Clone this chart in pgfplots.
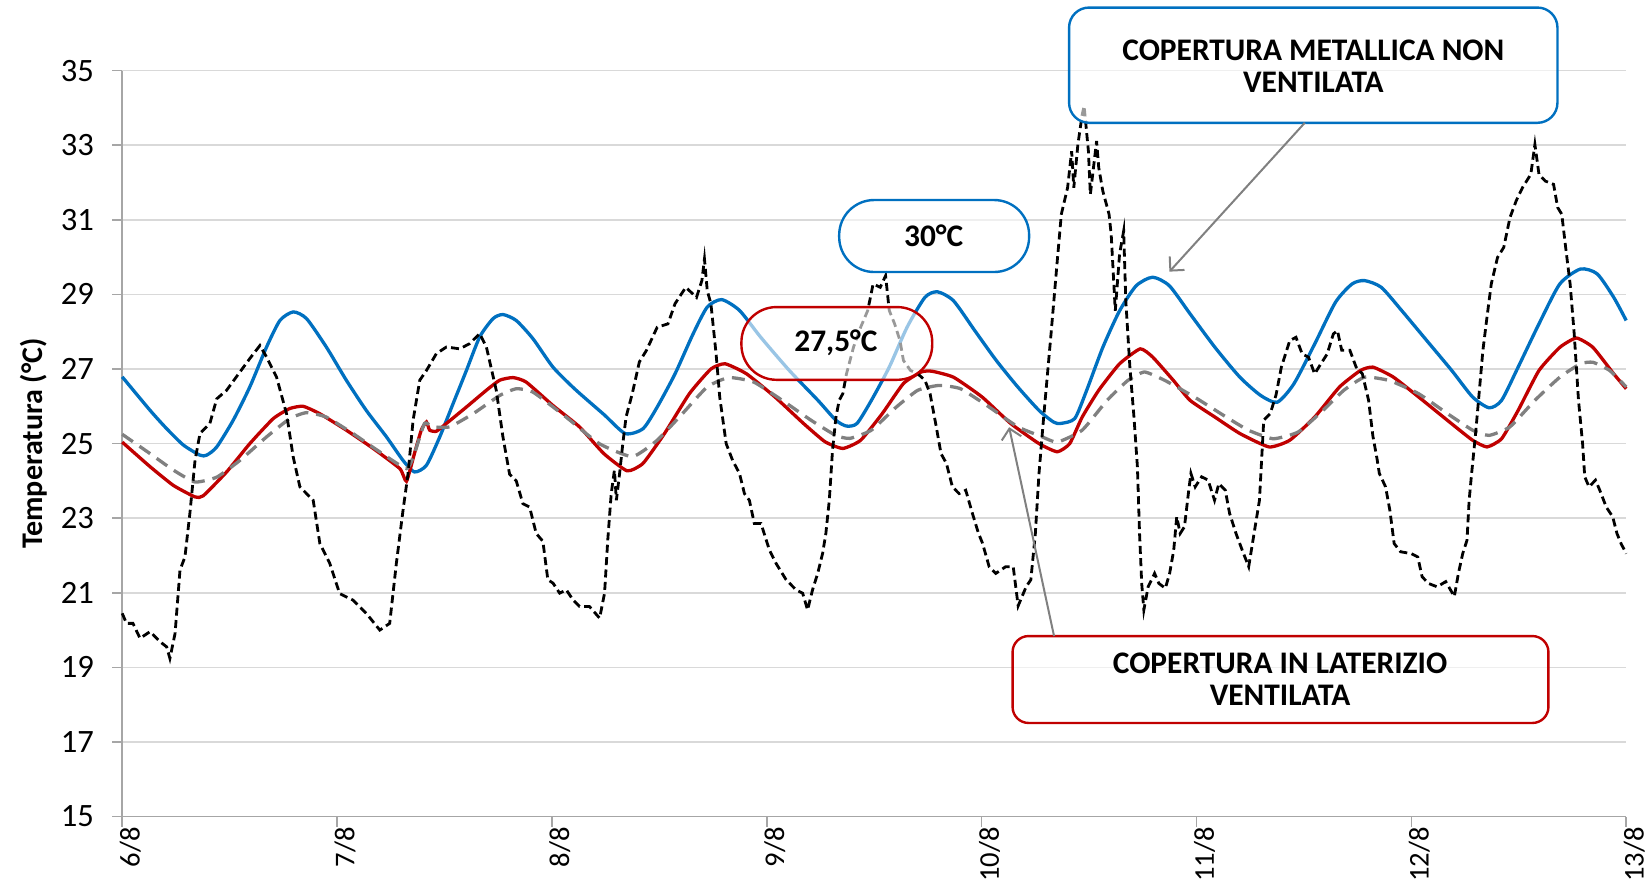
\documentclass[border=0pt]{standalone}
\usepackage{pgfplots}
\pgfplotsset{compat=1.18}
\usepackage{fontspec}
\setmainfont{Carlito}
\usetikzlibrary{arrows.meta}
\definecolor{cblue}{HTML}{0070C0}
\definecolor{cred}{HTML}{C00000}
\definecolor{cgray}{HTML}{808080}
\definecolor{cgrid}{HTML}{D9D9D9}
\definecolor{caxis}{HTML}{A6A6A6}
\begin{document}
\begin{tikzpicture}
\path[use as bounding box] (-61.1pt,-35.25pt) rectangle (764.9pt,408.3pt);
\begin{axis}[
  at={(0,0)}, anchor=south west,
  scale only axis, width=752pt, height=373pt,
  xmin=0, xmax=7, ymin=15, ymax=35,
  axis x line*=bottom, axis y line*=left,
  axis line style={draw=caxis, line width=0.8pt},
  xtick={0,1,2,3,4,5,6,7},
  xticklabels={6/8,7/8,8/8,9/8,10/8,11/8,12/8,13/8},
  ytick={15,17,...,35},
  tick align=outside, major tick length=5pt,
  tick style={draw=caxis, line width=0.8pt},
  ymajorgrids, grid style={draw=cgrid, line width=0.8pt},
  /pgf/number format/assume math mode=true,
  yticklabel style={font=\fontsize{16.3}{18}\selectfont, anchor=east, inner sep=0pt, xshift=-9pt},
  xticklabel style={font=\fontsize{14.3}{16}\selectfont, rotate=90, anchor=east, inner sep=0pt, yshift=-4pt},
  every axis y label/.style={at={(axis description cs:-0.0585,0.5)}, rotate=90, anchor=center},
  ylabel={\fontsize{15}{17}\selectfont\bfseries Temperatura (°C)},
  clip=false,
]
% metal roof non ventilated
\addplot[cblue, line width=1.65pt, smooth, tension=0.4] coordinates {
(0,26.79)(0.13,25.89)(0.207,25.40)(0.285,24.96)(0.362,24.69)(0.393,24.69)(0.44,24.91)(0.517,25.63)(0.594,26.52)(0.672,27.59)(0.734,28.30)(0.796,28.53)(0.858,28.35)(0.95,27.59)(1.043,26.70)(1.136,25.89)(1.23,25.18)(1.307,24.55)(1.36,24.24)(1.416,24.42)(1.478,25.18)(1.54,26.07)(1.602,26.96)(1.664,27.86)(1.726,28.35)(1.772,28.46)(1.834,28.30)(1.912,27.81)(2.005,27.05)(2.109,26.45)(2.242,25.78)(2.341,25.27)(2.424,25.40)(2.49,25.98)(2.573,26.87)(2.657,27.94)(2.723,28.66)(2.79,28.86)(2.873,28.57)(2.972,27.85)(3.105,26.96)(3.238,26.16)(3.321,25.63)(3.371,25.47)(3.42,25.54)(3.487,26.16)(3.57,27.05)(3.653,28.12)(3.736,28.92)(3.794,29.07)(3.869,28.83)(3.968,28.03)(4.068,27.23)(4.168,26.52)(4.267,25.89)(4.334,25.58)(4.367,25.54)(4.433,25.67)(4.487,26.40)(4.564,27.58)(4.642,28.56)(4.719,29.23)(4.796,29.46)(4.874,29.23)(4.97,28.48)(5.086,27.58)(5.202,26.78)(5.299,26.29)(5.376,26.11)(5.453,26.6)(5.55,27.67)(5.647,28.79)(5.724,29.28)(5.782,29.37)(5.86,29.19)(5.956,28.56)(6.072,27.76)(6.188,26.96)(6.285,26.25)(6.362,25.96)(6.42,26.16)(6.497,27.05)(6.594,28.21)(6.691,29.28)(6.787,29.68)(6.865,29.55)(6.942,28.92)(7,28.3)
};
% brick roof ventilated
\addplot[cred, line width=1.65pt, smooth, tension=0.3] coordinates {
(0,25.04)(0.13,24.38)(0.238,23.88)(0.339,23.57)(0.377,23.60)(0.486,24.24)(0.594,25.00)(0.703,25.67)(0.78,25.94)(0.842,26.00)(0.92,25.80)(1.043,25.36)(1.168,24.87)(1.292,24.33)(1.323,23.99)(1.36,24.73)(1.392,25.36)(1.416,25.58)(1.431,25.36)(1.462,25.33)(1.509,25.54)(1.602,25.98)(1.695,26.43)(1.757,26.70)(1.819,26.77)(1.88,26.65)(2.005,26.02)(2.128,25.45)(2.242,24.73)(2.35,24.27)(2.424,24.47)(2.524,25.27)(2.64,26.34)(2.74,27.0)(2.806,27.14)(2.906,26.87)(3.038,26.25)(3.171,25.54)(3.271,25.05)(3.354,24.87)(3.437,25.09)(3.537,25.80)(3.636,26.61)(3.719,26.92)(3.769,26.94)(3.869,26.78)(4.002,26.25)(4.135,25.54)(4.267,25.0)(4.352,24.78)(4.41,25.0)(4.468,25.71)(4.545,26.43)(4.642,27.14)(4.738,27.54)(4.796,27.32)(4.893,26.69)(4.97,26.16)(5.086,25.71)(5.202,25.27)(5.338,24.91)(5.434,25.09)(5.55,25.71)(5.666,26.52)(5.763,26.96)(5.821,27.05)(5.917,26.78)(6.053,26.16)(6.188,25.53)(6.285,25.09)(6.352,24.91)(6.42,25.13)(6.497,25.89)(6.594,26.96)(6.691,27.58)(6.768,27.83)(6.845,27.58)(6.942,26.87)(7,26.47)
};
% gray dashed
\addplot[cgray, line width=1.65pt, dash pattern=on 6.5pt off 4pt, smooth, tension=0.3] coordinates {
(0,25.25)(0.13,24.73)(0.238,24.29)(0.339,23.97)(0.44,24.10)(0.548,24.55)(0.672,25.18)(0.78,25.67)(0.858,25.83)(0.95,25.71)(1.074,25.27)(1.198,24.78)(1.323,24.33)(1.36,24.73)(1.407,25.54)(1.446,25.45)(1.524,25.45)(1.633,25.80)(1.757,26.29)(1.834,26.47)(1.912,26.38)(2.066,25.71)(2.22,25.0)(2.374,24.65)(2.49,25.09)(2.607,25.80)(2.723,26.52)(2.823,26.77)(2.939,26.65)(3.072,26.16)(3.205,25.63)(3.321,25.22)(3.387,25.14)(3.487,25.36)(3.603,25.98)(3.703,26.43)(3.802,26.56)(3.902,26.47)(4.035,25.98)(4.168,25.45)(4.274,25.20)(4.352,25.04)(4.468,25.36)(4.584,26.16)(4.68,26.69)(4.758,26.92)(4.854,26.69)(4.99,26.25)(5.125,25.76)(5.241,25.36)(5.357,25.13)(5.473,25.31)(5.589,25.89)(5.686,26.43)(5.782,26.78)(5.898,26.69)(6.033,26.34)(6.169,25.8)(6.285,25.36)(6.362,25.22)(6.459,25.45)(6.575,26.16)(6.691,26.78)(6.787,27.14)(6.845,27.18)(6.923,26.96)(7,26.52)
};
% outdoor air, black dashed
\addplot[black, line width=1.4pt, dash pattern=on 4pt off 2.2pt] coordinates {
(0,20.45)(0.02,20.18)(0.05,20.18)(0.083,19.78)(0.13,19.96)(0.176,19.69)(0.207,19.55)(0.222,19.24)(0.246,19.91)(0.269,21.61)(0.292,21.96)(0.315,23.13)(0.339,24.55)(0.362,25.27)(0.408,25.54)(0.44,26.2)(0.486,26.43)(0.548,26.92)(0.594,27.28)(0.641,27.63)(0.672,27.32)(0.718,26.79)(0.765,25.80)(0.796,24.64)(0.827,23.84)(0.889,23.48)(0.92,22.32)(0.966,21.79)(1.012,20.98)(1.075,20.80)(1.136,20.45)(1.199,20.00)(1.245,20.18)(1.276,21.79)(1.307,23.21)(1.33,24.18)(1.354,25.63)(1.385,26.70)(1.416,26.96)(1.462,27.41)(1.509,27.59)(1.571,27.54)(1.617,27.68)(1.664,27.95)(1.695,27.59)(1.741,26.43)(1.772,25.18)(1.803,24.18)(1.834,24.00)(1.865,23.39)(1.896,23.30)(1.927,22.59)(1.958,22.38)(1.981,21.35)(2.005,21.26)(2.036,20.99)(2.067,21.08)(2.098,20.81)(2.129,20.63)(2.175,20.63)(2.222,20.32)(2.245,20.99)(2.26,22.42)(2.276,23.66)(2.291,24.29)(2.3,23.48)(2.315,24.2)(2.33,25.0)(2.345,25.71)(2.374,26.34)(2.407,27.19)(2.44,27.5)(2.49,28.12)(2.54,28.21)(2.573,28.75)(2.623,29.19)(2.673,28.92)(2.698,29.37)(2.71,29.95)(2.723,29.10)(2.74,28.75)(2.764,27.41)(2.781,26.25)(2.811,25.0)(2.841,24.55)(2.873,24.2)(2.896,23.66)(2.919,23.48)(2.942,22.86)(2.973,22.86)(3.012,22.15)(3.043,21.79)(3.09,21.35)(3.136,21.08)(3.167,20.99)(3.19,20.54)(3.213,21.08)(3.237,21.52)(3.26,22.06)(3.275,22.59)(3.291,23.48)(3.306,24.82)(3.322,25.71)(3.337,26.16)(3.354,26.34)(3.371,26.87)(3.404,27.59)(3.437,28.12)(3.47,28.57)(3.495,29.28)(3.528,29.19)(3.553,29.5)(3.57,28.57)(3.595,28.21)(3.62,27.76)(3.636,27.23)(3.669,26.96)(3.703,26.87)(3.736,26.7)(3.76,26.34)(3.786,25.54)(3.811,24.73)(3.836,24.47)(3.864,23.84)(3.895,23.66)(3.926,23.75)(3.957,23.13)(3.985,22.6)(4.004,22.33)(4.035,21.7)(4.066,21.52)(4.112,21.7)(4.147,21.7)(4.17,20.65)(4.207,21.16)(4.229,21.35)(4.25,22.59)(4.267,24.2)(4.29,25.8)(4.323,27.94)(4.352,29.9)(4.371,31.15)(4.4,31.86)(4.419,32.84)(4.429,31.86)(4.448,33.02)(4.468,33.82)(4.477,34.05)(4.497,32.84)(4.506,31.68)(4.535,33.11)(4.545,32.4)(4.564,31.77)(4.593,31.15)(4.603,30.61)(4.622,28.56)(4.642,30.08)(4.661,30.7)(4.671,28.83)(4.69,27.05)(4.709,25.71)(4.725,24.38)(4.735,22.59)(4.745,21.25)(4.755,20.54)(4.775,21.16)(4.805,21.52)(4.825,21.25)(4.855,21.12)(4.875,21.52)(4.894,22.14)(4.908,23.04)(4.924,22.59)(4.944,22.77)(4.964,23.75)(4.974,24.2)(4.994,23.84)(5.024,24.11)(5.054,24.02)(5.084,23.48)(5.104,23.93)(5.134,23.75)(5.154,23.13)(5.184,22.59)(5.213,22.14)(5.243,21.7)(5.273,22.77)(5.293,23.48)(5.303,24.55)(5.313,25.63)(5.343,25.8)(5.37,26.3)(5.395,27.05)(5.434,27.76)(5.463,27.85)(5.492,27.4)(5.521,27.32)(5.55,26.87)(5.579,27.14)(5.608,27.4)(5.637,27.94)(5.656,28.03)(5.676,27.5)(5.714,27.5)(5.743,27.05)(5.772,26.87)(5.801,26.16)(5.821,25.2)(5.84,24.6)(5.851,24.2)(5.88,23.84)(5.9,23.21)(5.92,22.32)(5.95,22.1)(6.0,22.05)(6.03,21.96)(6.05,21.43)(6.08,21.25)(6.12,21.16)(6.16,21.3)(6.2,20.9)(6.219,21.52)(6.239,22.05)(6.259,22.41)(6.269,23.48)(6.279,24.11)(6.299,25.27)(6.333,27.5)(6.352,28.39)(6.372,29.28)(6.401,29.99)(6.43,30.26)(6.459,31.06)(6.488,31.51)(6.517,31.86)(6.556,32.22)(6.575,33.02)(6.594,32.22)(6.623,32.04)(6.662,31.95)(6.681,31.33)(6.7,31.15)(6.72,30.17)(6.739,29.28)(6.758,27.94)(6.778,26.16)(6.797,25.0)(6.807,24.11)(6.827,23.84)(6.857,24.02)(6.877,23.75)(6.907,23.3)(6.937,23.04)(6.957,22.59)(6.976,22.32)(7.0,22.05)
};
% callouts
\draw[cblue, line width=1.2pt, fill=white, fill opacity=0.6, rounded corners=17.5pt] (axis cs:3.337,29.60) rectangle (axis cs:4.221,31.53);
\node[font=\fontsize{15.7}{16}\selectfont\bfseries] at (axis cs:3.777,30.57) {30°C};
\draw[cred, line width=1.2pt, fill=white, fill opacity=0.6, rounded corners=17.5pt] (axis cs:2.882,26.71) rectangle (axis cs:3.770,28.66);
\node[font=\fontsize{15.7}{16}\selectfont\bfseries] at (axis cs:3.322,27.70) {27,5°C};
\draw[cblue, line width=1.2pt, fill=white, fill opacity=0.6, rounded corners=10pt] (axis cs:4.407,33.60) rectangle (axis cs:6.680,36.69);
\node[font=\fontsize{15.7}{16}\selectfont\bfseries, align=center] at (axis cs:5.544,35.13) {COPERTURA METALLICA NON\\VENTILATA};
\draw[cred, line width=1.2pt, fill=white, fill opacity=0.6, rounded corners=8pt] (axis cs:4.144,17.51) rectangle (axis cs:6.638,19.84);
\node[font=\fontsize{15.7}{16}\selectfont\bfseries, align=center] at (axis cs:5.389,18.68) {COPERTURA IN LATERIZIO\\VENTILATA};
\draw[cgray, line width=1pt, -{Straight Barb[length=5pt,width=10pt]}] (axis cs:5.504,33.60) -- (axis cs:4.874,29.61);
\draw[cgray, line width=1pt, -{Straight Barb[length=5pt,width=10pt]}] (axis cs:4.337,19.84) -- (axis cs:4.128,25.44);
\end{axis}
\end{tikzpicture}
\end{document}
